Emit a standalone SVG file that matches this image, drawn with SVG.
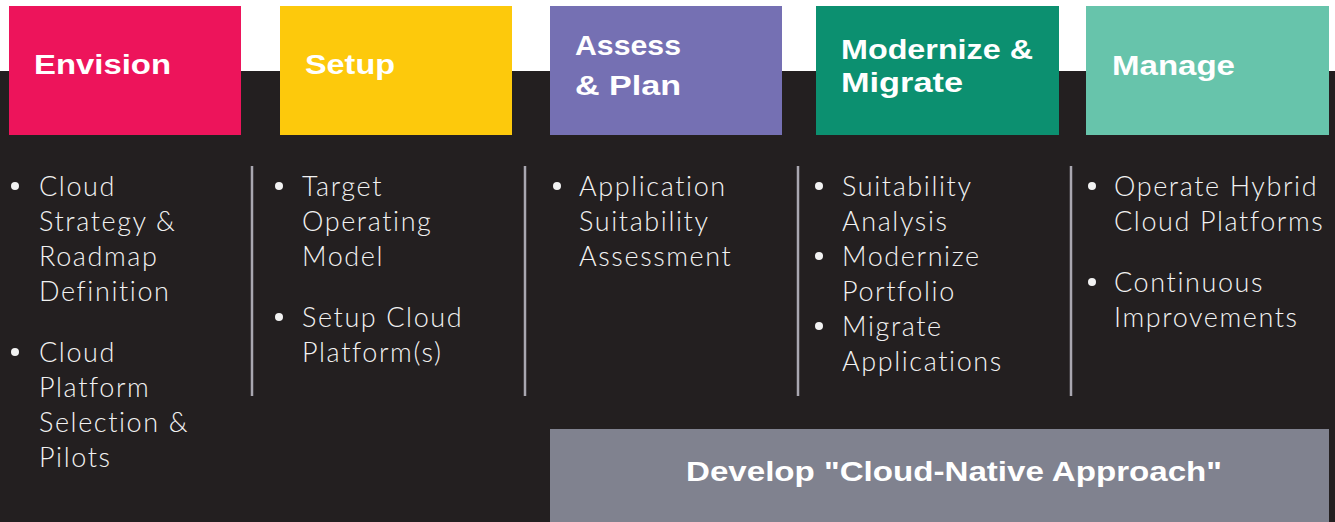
<svg xmlns="http://www.w3.org/2000/svg" width="1335" height="522" viewBox="0 0 1335 522">
<style>
.title{font-family:"Liberation Sans",Arial,sans-serif;font-weight:700;font-size:27px;fill:#ffffff}
.body{font-family:Lato,"Noto Sans",sans-serif;font-weight:300;font-size:27px;letter-spacing:1.6px;fill:#f2f2f2}
.dot{fill:#f2f2f2}
.div{stroke:#a9a7b0;stroke-width:2.5}
</style>
<rect x="0" y="0" width="1335" height="522" fill="#ffffff"/>
<rect x="0" y="71" width="1335" height="451" fill="#231f20"/>
<g id="envision">
<rect x="9" y="6" width="232" height="129" fill="#ed145b"/>
<text class="title" x="34" y="74" textLength="137" lengthAdjust="spacingAndGlyphs">Envision</text>
<circle class="dot" cx="15" cy="186" r="4"/>
<text class="body" x="39" y="196">Cloud</text>
<text class="body" x="39" y="231">Strategy &amp;</text>
<text class="body" x="39" y="266">Roadmap</text>
<text class="body" x="39" y="301">Definition</text>
<circle class="dot" cx="15" cy="352" r="4"/>
<text class="body" x="39" y="362">Cloud</text>
<text class="body" x="39" y="397">Platform</text>
<text class="body" x="39" y="432">Selection &amp;</text>
<text class="body" x="39" y="467">Pilots</text>
</g>
<g id="setup">
<rect x="280" y="6" width="232" height="129" fill="#fdc90c"/>
<text class="title" x="305" y="74" textLength="90" lengthAdjust="spacingAndGlyphs">Setup</text>
<circle class="dot" cx="279" cy="186" r="4"/>
<text class="body" x="302" y="196">Target</text>
<text class="body" x="302" y="231">Operating</text>
<text class="body" x="302" y="266">Model</text>
<circle class="dot" cx="279" cy="317" r="4"/>
<text class="body" x="302" y="327">Setup Cloud</text>
<text class="body" x="302" y="362">Platform(s)</text>
</g>
<g id="assess">
<rect x="550" y="6" width="232" height="129" fill="#7570b3"/>
<text class="title" x="575" y="55" textLength="106" lengthAdjust="spacingAndGlyphs">Assess</text>
<text class="title" x="575" y="95" textLength="106" lengthAdjust="spacingAndGlyphs">&amp; Plan</text>
<circle class="dot" cx="557" cy="186" r="4"/>
<text class="body" x="579" y="196">Application</text>
<text class="body" x="579" y="231">Suitability</text>
<text class="body" x="579" y="266">Assessment</text>
</g>
<g id="modernize">
<rect x="816" y="6" width="243" height="129" fill="#0c9070"/>
<text class="title" x="841" y="59" textLength="192" lengthAdjust="spacingAndGlyphs">Modernize &amp;</text>
<text class="title" x="841" y="92" textLength="122" lengthAdjust="spacingAndGlyphs">Migrate</text>
<circle class="dot" cx="819" cy="186" r="4"/>
<text class="body" x="842" y="196">Suitability</text>
<text class="body" x="842" y="231">Analysis</text>
<circle class="dot" cx="819" cy="256" r="4"/>
<text class="body" x="842" y="266">Modernize</text>
<text class="body" x="842" y="301">Portfolio</text>
<circle class="dot" cx="819" cy="326" r="4"/>
<text class="body" x="842" y="336">Migrate</text>
<text class="body" x="842" y="371">Applications</text>
</g>
<g id="manage">
<rect x="1086" y="6" width="243" height="129" fill="#67c4ab"/>
<text class="title" x="1112" y="75" textLength="123" lengthAdjust="spacingAndGlyphs">Manage</text>
<circle class="dot" cx="1092" cy="186" r="4"/>
<text class="body" x="1114" y="196">Operate Hybrid</text>
<text class="body" x="1114" y="231">Cloud Platforms</text>
<circle class="dot" cx="1092" cy="282" r="4"/>
<text class="body" x="1114" y="292">Continuous</text>
<text class="body" x="1114" y="327">Improvements</text>
</g>
<g id="develop">
<rect x="550" y="429" width="779" height="93" fill="#80828f"/>
<text class="title" x="686" y="481" textLength="536" lengthAdjust="spacingAndGlyphs">Develop "Cloud-Native Approach"</text>
</g>
<g id="connectors">
<line class="div" x1="252" y1="166" x2="252" y2="396"/>
<line class="div" x1="525" y1="166" x2="525" y2="396"/>
<line class="div" x1="798" y1="166" x2="798" y2="396"/>
<line class="div" x1="1071" y1="166" x2="1071" y2="396"/>
</g>
</svg>
